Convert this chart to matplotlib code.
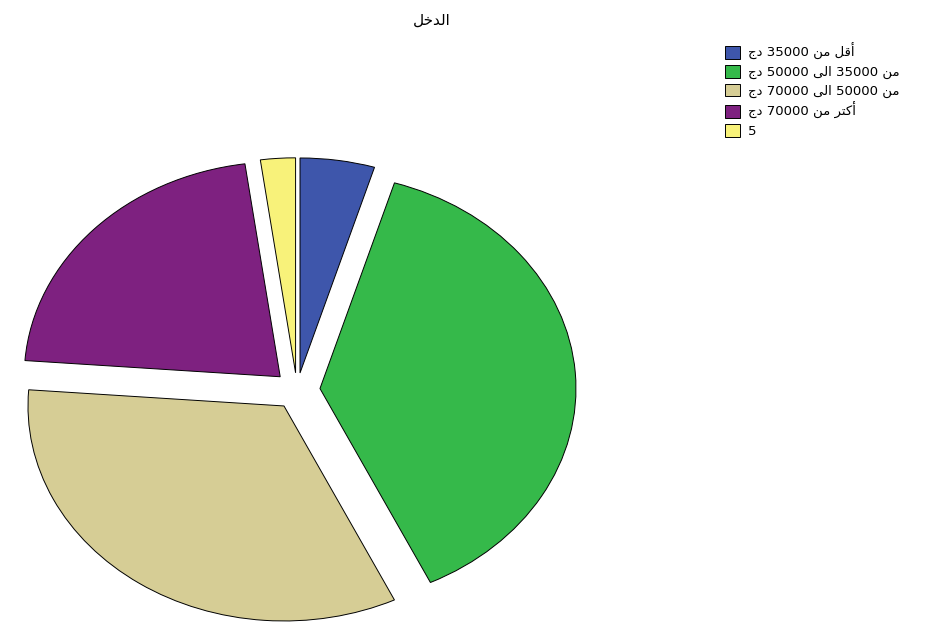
import matplotlib
matplotlib.use("Agg")
import matplotlib.pyplot as plt
from matplotlib.patches import Patch

# Arabic text is stored in presentation forms, already in visual (left-to-right) order,
# since matplotlib does no shaping or bidi on its own.
title = "\ufede\ufea7\ufeaa\ufedf\ufe8d"  # الدخل
categories = [
    "\ufe9d\ufea9 35000 \ufee6\ufee3 \ufede\ufed7\ufe83",              # أقل من 35000 دج
    "\ufe9d\ufea9 50000 \ufef0\ufedf\ufe8d 35000 \ufee6\ufee3",        # من 35000 الى 50000 دج
    "\ufe9d\ufea9 70000 \ufef0\ufedf\ufe8d 50000 \ufee6\ufee3",        # من 50000 الى 70000 دج
    "\ufe9d\ufea9 70000 \ufee6\ufee3 \ufeae\ufe98\ufedb\ufe83",        # أكثر من 70000 دج
    "5",
]
percents = [4.7, 38.2, 33.3, 21.6, 2.2]
colors = ["#3e56ab", "#35b94a", "#d6cd95", "#7e2180", "#f8f27a"]
explode = [0.08, 0.09, 0.09, 0.09, 0.08]

fig = plt.figure(figsize=(9.4, 6.28), dpi=100)

# pie centre at about (297, 390) px, radius 256 px across and 215 px high
ax = fig.add_axes([7 / 940, 0, 580 / 940, 476 / 628])
wedges, _ = ax.pie(percents, colors=colors, explode=explode, startangle=90,
                   counterclock=False,
                   wedgeprops=dict(edgecolor="black", linewidth=0.7))
ax.set_aspect("auto")
ax.set_xlim(-290 / 256, 290 / 256)
ax.set_ylim(-238 / 215, 238 / 215)
ax.axis("off")
for w in wedges:
    w.set_clip_on(False)

fig.text(432 / 940, 1 - 20 / 628, title, ha="center", va="center",
         fontsize=11, family=["DejaVu Sans"])

handles = [Patch(facecolor=c, edgecolor="black", linewidth=0.7) for c in colors]
fig.legend(handles, categories, loc="upper left",
           bbox_to_anchor=(720 / 940, 1 - 38 / 628), frameon=False,
           prop=dict(family="DejaVu Sans", size=9.5),
           handlelength=1.1, handleheight=1.1, handletextpad=0.6,
           labelspacing=0.35, borderaxespad=0)

fig.savefig("out.png", dpi=100)
